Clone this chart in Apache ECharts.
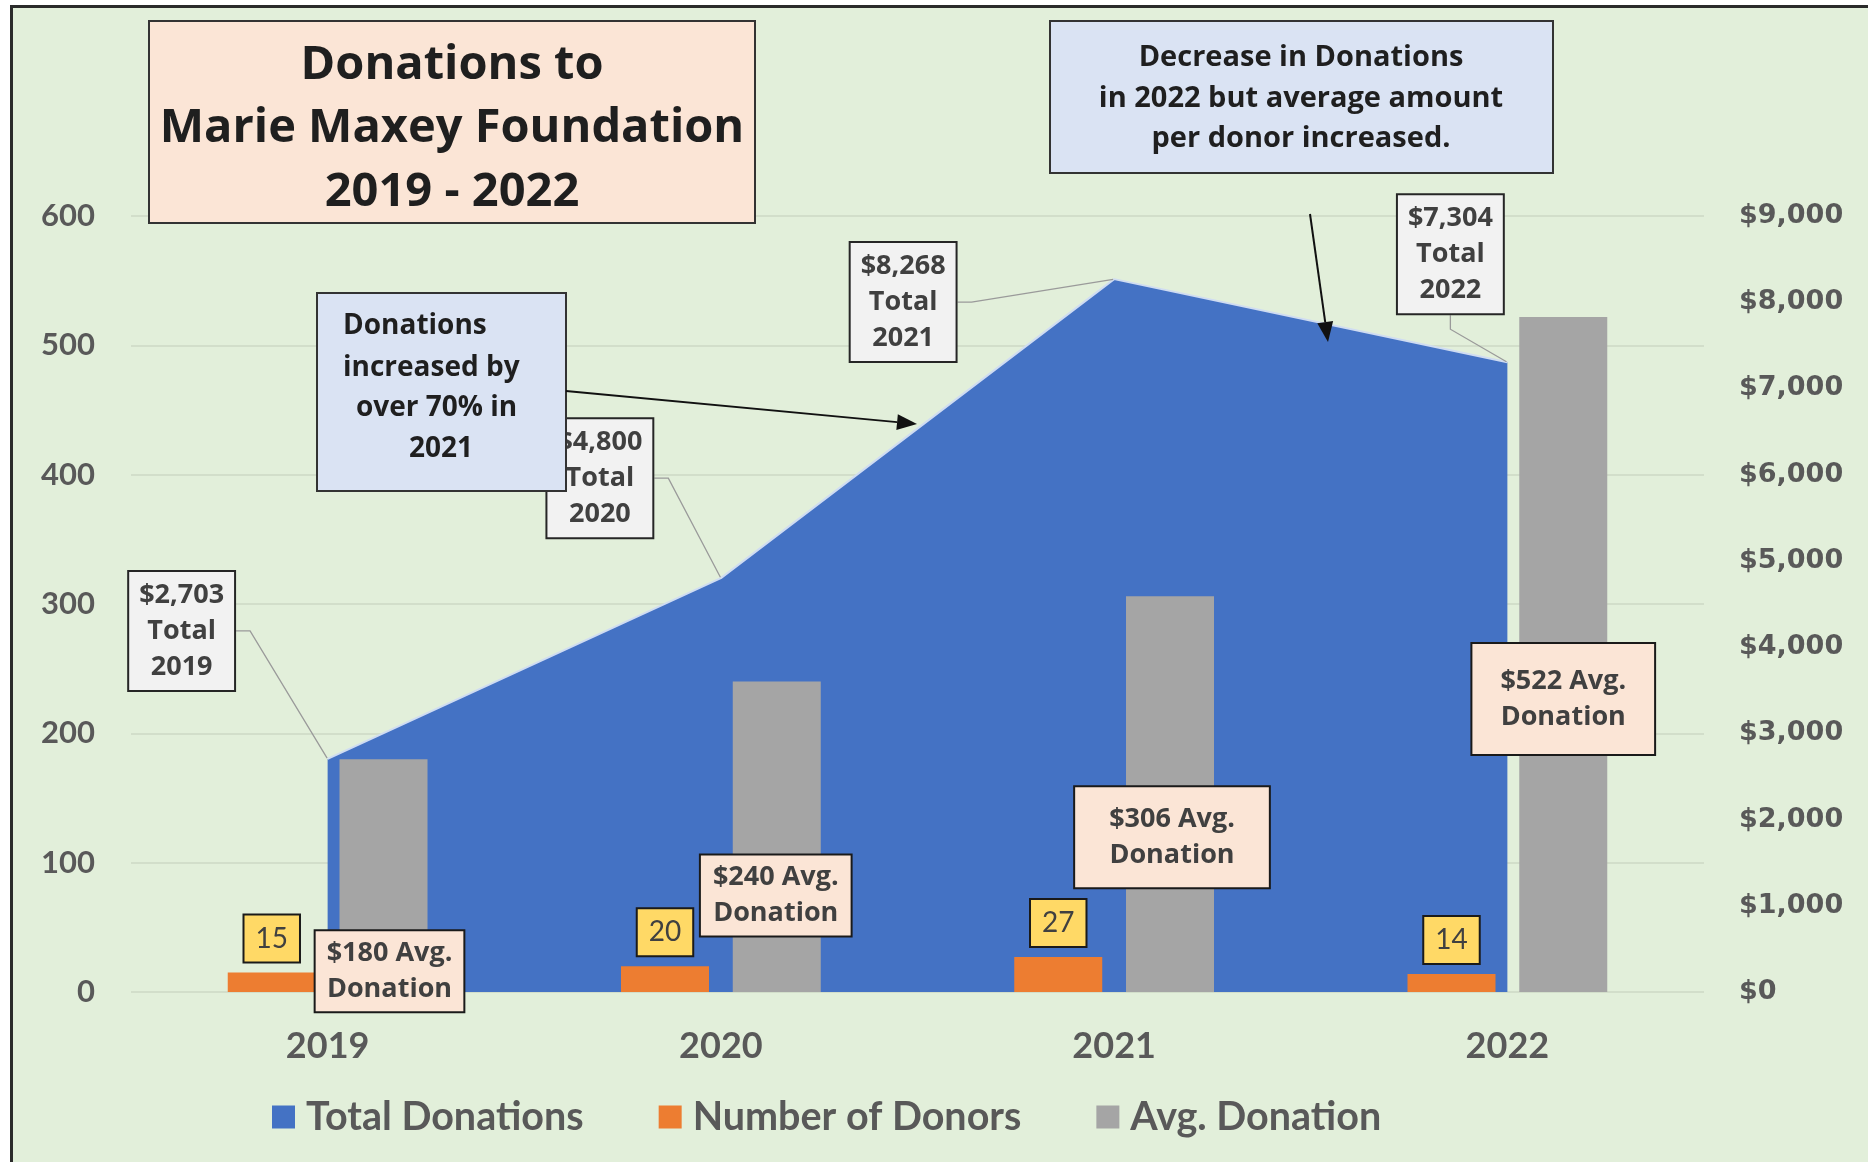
<!DOCTYPE html>
<html><head><meta charset="utf-8">
<script src="https://cdn.jsdelivr.net/npm/echarts@6/dist/echarts.min.js"></script>
<style>
html,body{margin:0;padding:0;background:#fff;}
#wrap{position:relative;width:1868px;height:1162px;overflow:hidden;background:#fff;}
#bg{position:absolute;left:10px;top:5px;right:-10px;bottom:-10px;background:#e2efda;border-left:3px solid #2b2b2b;border-top:3px solid #2b2b2b;}
#chart{position:absolute;left:0;top:0;width:1868px;height:1162px;}
</style></head><body>
<div id="wrap"><div id="bg"></div><div id="chart"></div></div>
<script>
// ---- data ----
const years = ['2019', '2020', '2021', '2022'];
const totalDonations = [2703, 4800, 8268, 7304];
const numberOfDonors = [15, 20, 27, 14];
const avgDonation = [180, 240, 306, 522];
const leftAxisTicks = { min: 0, max: 600, interval: 100 };
const rightAxisTicks = { min: 0, max: 9000, interval: 1000 };
const seriesNames = ['Total Donations', 'Number of Donors', 'Avg. Donation'];

// ---- layout / style (not data) ----
const colors = { total: '#4472c4', donors: '#ed7d31', avg: '#a5a5a5' };
const totalLabelOffsets = [[-146, -128], [-121, -100], [-211, 23], [-57, -108]];
const avgLabelOffsets = [[6, 212], [-1, 214], [2, 241], [0, 382]];
const avgLabelPadding = [[4, 11], [4, 12], [14, 34], [19, 28]];
const axisGray = '#595959';

const chart = echarts.init(document.getElementById('chart'), null, { renderer: 'canvas' });

function fmtMoney(v) { return '$' + Number(v).toLocaleString('en-US'); }

function arrow(x1, y1, x2, y2) {
  const len = 20, half = 8;
  const dx = x2 - x1, dy = y2 - y1, L = Math.hypot(dx, dy), ux = dx / L, uy = dy / L;
  const bx = x2 - ux * len, by = y2 - uy * len;
  return [
    { type: 'line', z: 100, shape: { x1: x1, y1: y1, x2: bx, y2: by }, style: { stroke: '#111', lineWidth: 2 } },
    { type: 'polygon', z: 100, shape: { points: [[x2, y2], [bx - uy * half, by + ux * half], [bx + uy * half, by - ux * half]] }, style: { fill: '#111' } }
  ];
}
function txt(x, y, text, font, align) {
  return { type: 'text', z: 101, x: x, y: y, style: { text: text, font: font, fill: '#1f1f1f', textAlign: align || 'center', textVerticalAlign: 'middle' } };
}
function box(x, y, w, h, fill) {
  return { type: 'rect', z: 99, shape: { x: x, y: y, width: w, height: h }, style: { fill: fill, stroke: '#333', lineWidth: 2 } };
}

const titleFont = "bold 47px 'Open Sans'";
const noteFont = "bold 29px 'Open Sans'";
const noteFont2 = "bold 28px 'Open Sans'";

const graphics = [].concat(
  [box(149, 21, 606, 202, '#fbe5d6'),
   txt(452, 66, 'Donations to', titleFont),
   txt(452, 129, 'Marie Maxey Foundation', titleFont),
   txt(452, 193, '2019 - 2022', titleFont),
   box(1050, 21, 503, 152, '#dae3f3'),
   txt(1301, 58, 'Decrease in Donations', noteFont),
   txt(1301, 99, 'in 2022 but average amount', noteFont),
   txt(1301, 139, 'per donor increased.', noteFont),
   box(317, 293, 249, 198, '#dae3f3'),
   txt(343, 326, 'Donations', noteFont2, 'left'),
   txt(343, 368, 'increased by', noteFont2, 'left'),
   txt(356, 408, 'over 70% in', noteFont2, 'left'),
   txt(441, 449, '2021', noteFont2)],
  arrow(1310, 214, 1328, 342),
  arrow(566, 391, 917, 424)
);

const option = {
  animation: false,
  textStyle: { fontFamily: 'Lato' },
  grid: { left: 131, right: 164, top: 216, bottom: 170, containLabel: false },
  legend: {
    left: 267, top: 1092, icon: 'rect', itemWidth: 23, itemHeight: 23, itemGap: 75,
    textStyle: { fontFamily: 'Lato', fontWeight: 'bold', fontSize: 39.5, color: axisGray, padding: [0, 0, 0, 6] },
    data: [
      { name: seriesNames[0], itemStyle: { color: colors.total, borderWidth: 0 } },
      { name: seriesNames[1], itemStyle: { color: colors.donors, borderWidth: 0 } },
      { name: seriesNames[2], itemStyle: { color: colors.avg, borderWidth: 0 } }
    ]
  },
  xAxis: {
    type: 'category', data: years, boundaryGap: true,
    axisLine: { show: false }, axisTick: { show: false },
    axisLabel: { fontFamily: 'Lato', fontWeight: 'bold', fontSize: 36, color: axisGray, margin: 36 }
  },
  yAxis: [
    {
      type: 'value', position: 'left', min: leftAxisTicks.min, max: leftAxisTicks.max, interval: leftAxisTicks.interval,
      axisLine: { show: false }, axisTick: { show: false },
      axisLabel: { fontFamily: 'Lato', fontWeight: 'bold', fontSize: 31, color: axisGray, margin: 36 },
      splitLine: { lineStyle: { color: '#cdd9c5', width: 1.5 } }
    },
    {
      type: 'value', position: 'right', min: rightAxisTicks.min, max: rightAxisTicks.max, interval: rightAxisTicks.interval,
      axisLine: { show: false }, axisTick: { show: false },
      axisLabel: { fontFamily: 'DejaVu Sans', fontWeight: 'bold', fontSize: 27, color: axisGray, margin: 35, formatter: fmtMoney },
      splitLine: { show: false }
    }
  ],
  series: [
    {
      name: seriesNames[0], type: 'line', yAxisIndex: 1, data: totalDonations,
      symbol: 'circle', symbolSize: 2, showSymbol: true,
      itemStyle: { color: 'rgba(0,0,0,0)' },
      lineStyle: { color: '#cfdcf2', width: 2 },
      areaStyle: { color: colors.total, opacity: 1 },
      emphasis: { disabled: true },
      z: 1,
      label: {
        show: true,
        formatter: function (p) { return fmtMoney(p.value) + '\nTotal\n' + years[p.dataIndex]; },
        fontFamily: 'Open Sans', fontWeight: 'bold', fontSize: 27, lineHeight: 36, color: '#404040',
        backgroundColor: '#f2f2f2', borderColor: '#262626', borderWidth: 2, padding: [5, 10]
      },
      labelLine: { show: true, length2: 14, lineStyle: { color: '#9a9a9a', width: 1.3 } },
      labelLayout: function (p) {
        const o = totalLabelOffsets[p.dataIndex];
        const cx = p.rect.x + p.rect.width / 2, cy = p.rect.y + p.rect.height / 2;
        return { x: cx + o[0], y: cy + o[1], align: 'center', verticalAlign: 'middle' };
      }
    },
    {
      name: seriesNames[1], type: 'bar', yAxisIndex: 0, data: numberOfDonors,
      barWidth: 88, barGap: '27%',
      itemStyle: { color: colors.donors },
      emphasis: { disabled: true },
      label: {
        show: true, position: 'top', distance: 11,
        fontFamily: 'Lato', fontSize: 28, lineHeight: 30, color: '#404040',
        backgroundColor: '#ffd966', borderColor: '#1a1a1a', borderWidth: 2, padding: [8, 11]
      }
    },
    {
      name: seriesNames[2], type: 'bar', yAxisIndex: 0,
      data: avgDonation.map(function (v, i) { return { value: v, label: { padding: avgLabelPadding[i] } }; }),
      barWidth: 88, barGap: '27%',
      itemStyle: { color: colors.avg },
      emphasis: { disabled: true },
      label: {
        show: true,
        formatter: function (p) { return '$' + p.value + ' Avg.\nDonation'; },
        fontFamily: 'Open Sans', fontWeight: 'bold', fontSize: 27, lineHeight: 36, color: '#404040',
        backgroundColor: '#fbe5d6', borderColor: '#1a1a1a', borderWidth: 2
      },
      labelLayout: function (p) {
        const o = avgLabelOffsets[p.dataIndex];
        const cx = p.rect.x + p.rect.width / 2, top = p.rect.y;
        return { x: cx + o[0], y: top + o[1], align: 'center', verticalAlign: 'middle' };
      }
    }
  ],
  graphic: { elements: graphics }
};
chart.setOption(option);
</script>
</body></html>
